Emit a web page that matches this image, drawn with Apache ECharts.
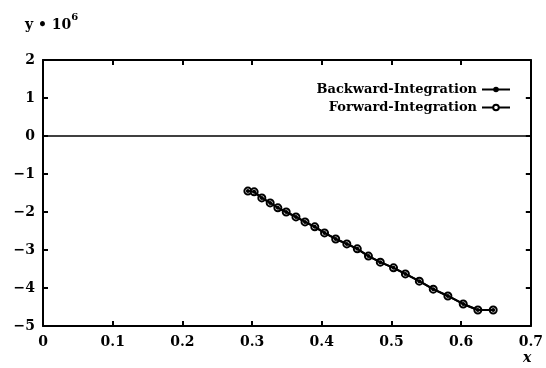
<!DOCTYPE html>
<html><head><meta charset="utf-8">
<script src="https://cdn.jsdelivr.net/npm/echarts@6/dist/echarts.min.js"></script>
<style>html,body{margin:0;padding:0;background:#fff}#c{width:546px;height:368px}</style>
</head><body><div id="c"></div>
<script>
var xValues = [0.294,0.303,0.314,0.326,0.337,0.349,0.363,0.376,0.390,0.404,0.420,0.436,0.451,0.467,0.484,0.503,0.520,0.540,0.560,0.581,0.603,0.624,0.646];
var backwardY = [-1.45,-1.47,-1.63,-1.76,-1.89,-2.00,-2.13,-2.26,-2.39,-2.55,-2.71,-2.84,-2.97,-3.16,-3.32,-3.47,-3.63,-3.82,-4.03,-4.21,-4.42,-4.58,-4.58];
var forwardY  = [-1.45,-1.47,-1.63,-1.76,-1.89,-2.00,-2.13,-2.26,-2.39,-2.55,-2.71,-2.84,-2.97,-3.16,-3.32,-3.47,-3.63,-3.82,-4.03,-4.21,-4.42,-4.58,-4.58];
var seriesNames = ['Backward-Integration','Forward-Integration'];
var xTicks = {min:0, max:0.7, interval:0.1};
var yTicks = {min:-5, max:2, interval:1};

function pairs(xs, ys){ return xs.map(function(x,i){return [x, ys[i]];}); }
var font = '"DejaVu Serif", "Liberation Serif", serif';
var chart = echarts.init(document.getElementById('c'));
var axisLine = {show:true, onZero:false, lineStyle:{color:'#000', width:2}};
var tick = {show:true, inside:true, length:5, lineStyle:{color:'#000', width:2}};
chart.setOption({
  animation:false,
  backgroundColor:'#fff',
  grid:{left:43, right:13, top:60, bottom:42},
  graphic:[
    {type:'text', left:25, top:12, style:{
      text:'{a|y \u2022 10}{s|6}', rich:{
        a:{fontFamily:font, fontWeight:'bold', fontSize:14, fill:'#000', verticalAlign:'bottom'},
        s:{fontFamily:font, fontWeight:'bold', fontSize:10, fill:'#000', verticalAlign:'top', padding:[0,0,10,0]}
      }}},
    {type:'text', left:523, top:351, style:{text:'x', fontFamily:font, fontStyle:'italic', fontWeight:'bold', fontSize:14, fill:'#000'}}
  ],
  legend:{
    right:30, top:78, orient:'vertical', align:'right', itemGap:5,
    itemWidth:28, itemHeight:7,
    textStyle:{fontFamily:font, fontWeight:'bold', fontSize:13, color:'#000'},
    data:seriesNames
  },
  xAxis:[
    {type:'value', min:xTicks.min, max:xTicks.max, interval:xTicks.interval, position:'bottom',
     axisLine:axisLine, axisTick:tick, splitLine:{show:false},
     axisLabel:{fontFamily:font, fontWeight:'bold', fontSize:14, color:'#000', margin:9}},
    {type:'value', min:xTicks.min, max:xTicks.max, interval:xTicks.interval, position:'top',
     axisLine:axisLine, axisTick:tick, splitLine:{show:false}, axisLabel:{show:false}}
  ],
  yAxis:[
    {type:'value', min:yTicks.min, max:yTicks.max, interval:yTicks.interval, position:'left',
     axisLine:axisLine, axisTick:tick, splitLine:{show:false},
     axisLabel:{fontFamily:font, fontWeight:'bold', fontSize:14, color:'#000', margin:8,
       formatter:function(v){return String(v).replace('-', '\u2212');}}},
    {type:'value', min:yTicks.min, max:yTicks.max, interval:yTicks.interval, position:'right',
     axisLine:axisLine, axisTick:tick, splitLine:{show:false}, axisLabel:{show:false}}
  ],
  series:[
    {name:seriesNames[1], type:'line', data:pairs(xValues, forwardY), symbol:'emptyCircle', symbolSize:7,
     lineStyle:{color:'#000', width:2}, itemStyle:{color:'#000', borderColor:'#000', borderWidth:1.5}, z:2,
     markLine:{silent:true, symbol:'none', label:{show:false}, lineStyle:{color:'#000', width:1.5, type:'solid'},
       data:[{yAxis:0}]}},
    {name:seriesNames[0], type:'line', data:pairs(xValues, backwardY), symbol:'circle', symbolSize:4,
     lineStyle:{color:'#000', width:2}, itemStyle:{color:'#000'}, z:3}
  ]
});
</script></body></html>
